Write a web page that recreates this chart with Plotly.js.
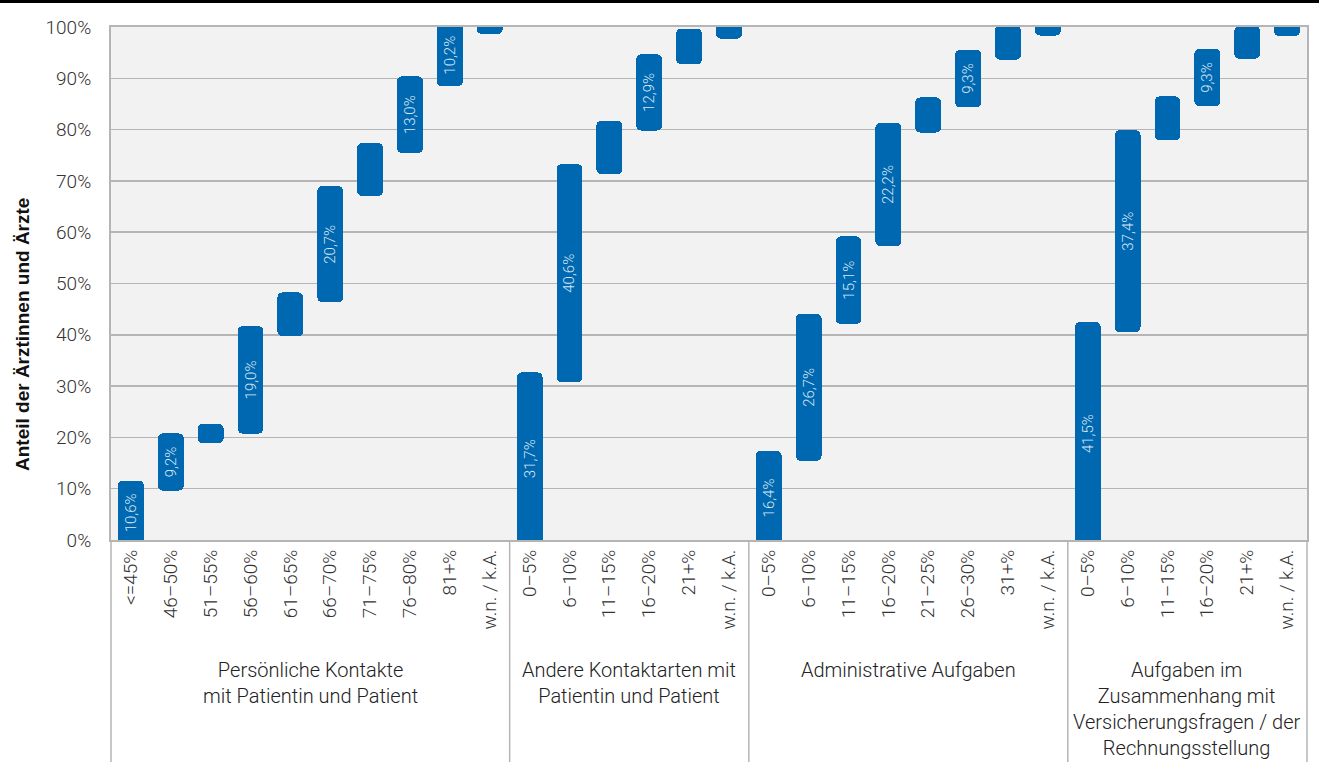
<!DOCTYPE html>
<html>
<head>
<meta charset="utf-8">
<script src="https://cdn.plot.ly/plotly-3.0.1.min.js"></script>
<style>
  html, body { margin: 0; padding: 0; background: #ffffff; }
  #chart { width: 1319px; height: 762px; }
</style>
</head>
<body>
<div id="chart"></div>
<script>
// ---- DATA ----
const groupNames = [
  "Persönliche Kontakte<br>mit Patientin und Patient",
  "Andere Kontaktarten mit<br>Patientin und Patient",
  "Administrative Aufgaben",
  "Aufgaben im<br>Zusammenhang mit<br>Versicherungsfragen / der<br>Rechnungsstellung"
];
const catsPersoenlich = ["<=45%", "46–50%", "51–55%", "56–60%", "61–65%", "66–70%", "71–75%", "76–80%", "81+%", "w.n. / k.A."];
const valsPersoenlich = [10.6, 9.2, 1.9, 19.0, 6.6, 20.7, 8.4, 13.0, 10.2, 0.4];
const catsAndere = ["0–5%", "6–10%", "11–15%", "16–20%", "21+%", "w.n. / k.A."];
const valsAndere = [31.7, 40.6, 8.5, 12.9, 5.0, 1.3];
const catsAdmin = ["0–5%", "6–10%", "11–15%", "16–20%", "21–25%", "26–30%", "31+%", "w.n. / k.A."];
const valsAdmin = [16.4, 26.7, 15.1, 22.2, 4.9, 9.3, 4.7, 0.7];
const catsVersicherung = ["0–5%", "6–10%", "11–15%", "16–20%", "21+%", "w.n. / k.A."];
const valsVersicherung = [41.5, 37.4, 6.6, 9.3, 4.4, 0.8];
const yTickVals = [0, 10, 20, 30, 40, 50, 60, 70, 80, 90, 100];
const yTickText = yTickVals.map(v => v + "%");

// ---- LAYOUT CONSTANTS ----
const W = 1319, H = 762;
const M = { l: 111, r: 12, t: 27, b: 222 };
const plotW = W - M.l - M.r, plotH = H - M.t - M.b;
const BAR_COLOR = "#0068b1";
const PAD_PX = 5;                  // visual extension of each bar end
const pad = PAD_PX / plotH * 100;  // in data units
const LABEL_MIN = 9;

const groups = [
  { cats: catsPersoenlich, vals: valsPersoenlich },
  { cats: catsAndere, vals: valsAndere },
  { cats: catsAdmin, vals: valsAdmin },
  { cats: catsVersicherung, vals: valsVersicherung }
];

const xs = [], tickText = [], barBase = [], barLen = [], txtBase = [], txtLen = [], txt = [];
const boundaries = [0];
const groupCenters = [];
let idx = 0;
groups.forEach(g => {
  let cum = 0;
  const startIdx = idx;
  g.vals.forEach((v, i) => {
    xs.push(idx);
    tickText.push(g.cats[i]);
    barBase.push(cum - pad);
    barLen.push(v + 2 * pad);
    txtBase.push(cum);
    txtLen.push(v);
    txt.push(v >= LABEL_MIN ? v.toFixed(1).replace(".", ",") + "%" : "");
    cum += v;
    idx++;
  });
  boundaries.push(idx);
  groupCenters.push((startIdx + idx - 1) / 2);
});
const N = idx;

const common = { type: "bar", x: xs, width: 0.65, hoverinfo: "skip", showlegend: false };
const traces = [
  Object.assign({}, common, {
    base: barBase, y: barLen,
    marker: { color: BAR_COLOR, cornerradius: 5, line: { width: 0 } }
  }),
  Object.assign({}, common, {
    base: txtBase, y: txtLen, text: txt,
    marker: { color: "rgba(0,0,0,0)", line: { width: 0 } },
    textposition: "inside", insidetextanchor: "middle", textangle: -90,
    constraintext: "none",
    insidetextfont: { family: "Roboto", size: 15, color: "#d9e6f3", weight: 300 }
  })
];

const GRID = "#b5b5b5";
const shapes = [];
shapes.push({ type: "line", xref: "paper", yref: "paper",
  x0: -M.l / plotW, x1: 1 + M.r / plotW,
  y0: 1 + (M.t - 1.5) / plotH, y1: 1 + (M.t - 1.5) / plotH,
  line: { color: "#000000", width: 3 } });
boundaries.forEach(b => {
  shapes.push({ type: "line", xref: "paper", yref: "paper",
    x0: b / N, x1: b / N, y0: 0, y1: -M.b / plotH,
    line: { color: GRID, width: 1.5 } });
});

const annotations = groupNames.map((name, i) => ({
  xref: "paper", yref: "paper",
  x: (groupCenters[i] + 0.5) / N, y: -(656 - (H - M.b)) / plotH,
  xanchor: "center", yanchor: "top", showarrow: false,
  text: name, align: "center",
  font: { family: "Roboto", size: 20, color: "#222222", weight: 300 }
}));
annotations.push({
  xref: "paper", yref: "paper",
  x: (22 - M.l) / plotW, y: ((H - M.b) - 335) / plotH,
  xanchor: "center", yanchor: "middle", showarrow: false, textangle: -90,
  text: "<b>Anteil der Ärztinnen und Ärzte</b>",
  font: { family: "Liberation Sans, Arial, sans-serif", size: 19, color: "#111111" }
});

const layout = {
  width: W, height: H,
  margin: M,
  paper_bgcolor: "#ffffff",
  plot_bgcolor: "#f2f2f2",
  barmode: "overlay",
  bargap: 0,
  font: { family: "Roboto", weight: 300, color: "#333333" },
  xaxis: {
    range: [-0.5, N - 0.5],
    tickmode: "array", tickvals: xs, ticktext: tickText,
    tickangle: -90, ticks: "", showgrid: false, zeroline: false,
    showline: true, mirror: true, linecolor: GRID, linewidth: 2,
    tickfont: { family: "Roboto", size: 19, color: "#333333", weight: 300 },
    fixedrange: true
  },
  yaxis: {
    range: [0, 100],
    tickmode: "array", tickvals: yTickVals, ticktext: yTickText,
    ticks: "", showgrid: true, gridcolor: GRID, gridwidth: 1.5,
    zeroline: false, showline: true, mirror: true, linecolor: GRID, linewidth: 2,
    ticklabelstandoff: 14,
    tickfont: { family: "Roboto", size: 19, color: "#333333", weight: 300 },
    fixedrange: true
  },
  shapes: shapes,
  annotations: annotations
};

Plotly.newPlot("chart", traces, layout, { displayModeBar: false, staticPlot: true });
</script>
</body>
</html>
